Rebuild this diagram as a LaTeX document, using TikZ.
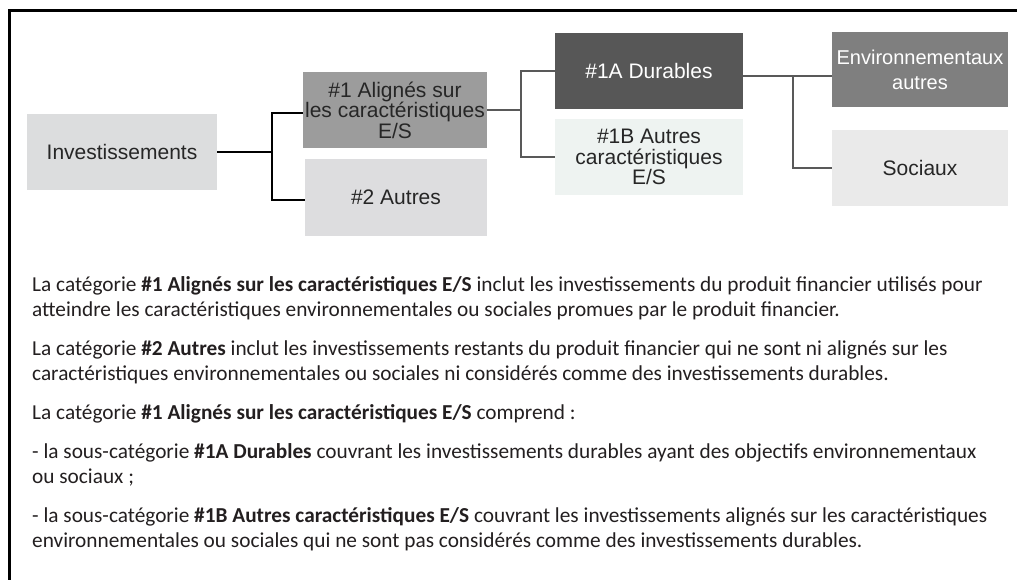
\documentclass[tikz,border=0pt]{standalone}
\usepackage{fontspec}
\setmainfont{Carlito}
\newfontfamily\arialf{Liberation Sans}
\definecolor{cinv}{HTML}{DCDDDE}
\definecolor{cal}{HTML}{9C9C9C}
\definecolor{cau}{HTML}{DDDDDF}
\definecolor{cdur}{HTML}{575757}
\definecolor{caut}{HTML}{EEF3F1}
\definecolor{cenv}{HTML}{7F7F7F}
\definecolor{csoc}{HTML}{EAEAEA}
\definecolor{dtext}{HTML}{262626}
\definecolor{btext}{HTML}{231F20}
\definecolor{cline}{HTML}{595959}
\begin{document}
\begin{tikzpicture}[x=1pt,y=-1pt,
  box/.style={inner sep=0pt, align=center, text=dtext,
    font=\arialf\fontsize{21}{20.5}\selectfont},
  wbox/.style={box, text=white},
  conna/.style={draw=black, line width=2.6pt},
  connb/.style={draw=cline, line width=2.2pt},
  bodyline/.style={anchor=base west, inner sep=0pt, text=btext,
    font=\fontsize{21.3}{25}\selectfont}]
\useasboundingbox (0,0) rectangle (1017,579);
\fill[white] (0,0) rectangle (1017,579);
\draw[line width=3pt] (1025,10) -- (9,10) -- (9,590);

\node[box, fill=cinv, minimum width=190pt, minimum height=76pt] (inv) at (122,152) {Investissements};
\node[box, fill=cal, minimum width=184pt, minimum height=76pt] (al) at (395,110) {\#1 Alignés sur\\les caractéristiques\\E/S};
\node[box, fill=cau, minimum width=182pt, minimum height=77pt] (au) at (396,197.5) {\#2 Autres};
\node[wbox, fill=cdur, minimum width=188pt, minimum height=76pt] (dur) at (649,71) {\#1A Durables};
\node[box, fill=caut, minimum width=188pt, minimum height=76pt] (aut) at (649,157) {\#1B Autres\\caractéristiques\\E/S};
\node[wbox, fill=cenv, minimum width=176pt, minimum height=75pt, font=\arialf\fontsize{20}{25}\selectfont] (env) at (920,69.5) {Environnementaux\\autres};
\node[box, fill=csoc, minimum width=176pt, minimum height=76pt] (soc) at (920,168) {Sociaux};

\coordinate (j1) at (272,0);
\coordinate (j2) at (521,0);
\coordinate (j3) at (793,0);

\draw[conna] (inv.east) -- (inv.east -| j1);
\draw[conna] ([yshift=-3pt]al.west) -- ([yshift=-3pt]al.west -| j1) -- ([yshift=-2.5pt]au.west -| j1) -- ([yshift=-2.5pt]au.west);
\draw[connb] (al.east) -- (al.east -| j2);
\draw[connb] (dur.west) -- (dur.west -| j2) -- (aut.west -| j2) -- (aut.west);
\draw[connb] ([yshift=-5pt]dur.east) -- ([yshift=-5pt]dur.east -| j3);
\draw[connb] ([yshift=-6.5pt]env.west) -- ([yshift=-6.5pt]env.west -| j3) -- (soc.west -| j3) -- (soc.west);

\node[bodyline] (l1) at (32,291) {La catégorie \textbf{\#1 Alignés sur les caractéristiques E/S} inclut les investissements du produit financier utilisés pour};
\node[bodyline] (l2) at (32,316) {atteindre les caractéristiques environnementales ou sociales promues par le produit financier.};
\node[bodyline] (l3) at (32,355) {La catégorie \textbf{\#2 Autres} inclut les investissements restants du produit financier qui ne sont ni alignés sur les};
\node[bodyline] (l4) at (32,380) {caractéristiques environnementales ou sociales ni considérés comme des investissements durables.};
\node[bodyline] (l5) at (32,419) {La catégorie \textbf{\#1 Alignés sur les caractéristiques E/S} comprend :};
\node[bodyline] (l6) at (32,458) {- la sous-catégorie \textbf{\#1A Durables} couvrant les investissements durables ayant des objectifs environnementaux};
\node[bodyline] (l7) at (32,483) {ou sociaux ;};
\node[bodyline] (l8) at (32,522) {- la sous-catégorie \textbf{\#1B Autres caractéristiques E/S} couvrant les investissements alignés sur les caractéristiques};
\node[bodyline] (l9) at (32,547) {environnementales ou sociales qui ne sont pas considérés comme des investissements durables.};
\end{tikzpicture}
\end{document}
